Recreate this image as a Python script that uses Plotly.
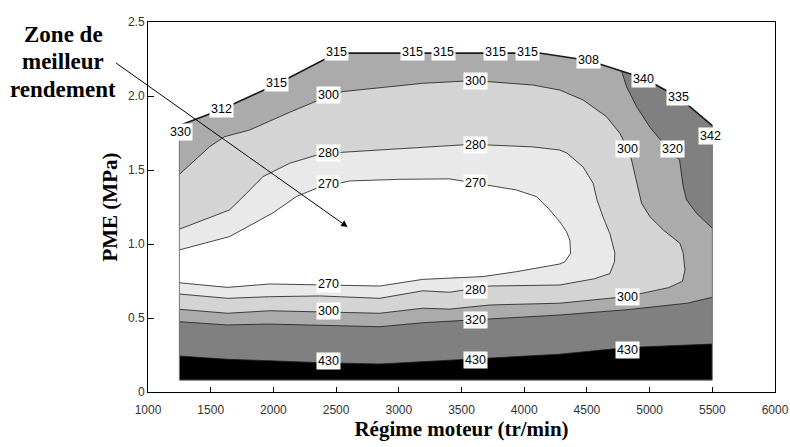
import plotly.graph_objects as go

# ---------------- data ----------------
PME_MIN = 0.08  # lowest load mapped (MPa)

# full-load curve (upper limit of the map)
fl_rpm = [1250, 1590, 2025, 2505, 4120, 4515, 4954, 5234, 5500]
fl_pme = [1.80, 1.91, 2.08, 2.29, 2.29, 2.24, 2.12, 1.99, 1.80]

# iso-consumption curves (g/kWh)
c430_rpm = [1250, 1630, 1970, 2370, 2850, 3190, 3720, 4280, 4820, 5500]
c430_pme = [0.243, 0.221, 0.211, 0.198, 0.189, 0.205, 0.228, 0.255, 0.300, 0.324]

c320_low_rpm = [1250, 1630, 1970, 2370, 2850, 3190, 3720, 4280, 4820, 5300, 5500]
c320_low_pme = [0.475, 0.453, 0.459, 0.453, 0.441, 0.468, 0.491, 0.520, 0.556, 0.600, 0.640]

c320_right_rpm = [5500, 5375, 5295, 5268, 5239, 5109, 5002, 4896, 4816, 4776]
c320_right_pme = [1.106, 1.207, 1.297, 1.387, 1.568, 1.680, 1.790, 1.928, 2.063, 2.170]

c300_rpm = [1250, 1491, 1611, 1810, 2130, 2440, 2555, 3193, 3512, 3713, 4071, 4284, 4470,
            4657, 4763, 4803, 4856, 4896, 4936, 5002, 5109, 5242, 5268, 5282, 5262, 5150,
            4923, 4820, 4284, 3725, 3406, 3191, 2848, 2369, 1970, 1634, 1250]
c300_pme = [1.470, 1.657, 1.725, 1.770, 1.890, 2.000, 2.030, 2.086, 2.100, 2.097, 2.074, 2.040, 1.973,
            1.860, 1.748, 1.680, 1.568, 1.410, 1.275, 1.185, 1.095, 1.005, 0.937, 0.824, 0.748, 0.705,
            0.667, 0.645, 0.600, 0.588, 0.560, 0.566, 0.532, 0.543, 0.549, 0.532, 0.559]

c280_rpm = [1250, 1650, 1784, 1916, 2129, 2342, 2555, 3512, 3713, 4070, 4284, 4340, 4470, 4550,
            4580, 4630, 4683, 4723, 4720, 4683, 4560, 4284, 3725, 3406, 3191, 2848, 2369, 1970,
            1634, 1250]
c280_pme = [1.100, 1.230, 1.340, 1.455, 1.545, 1.600, 1.620, 1.670, 1.669, 1.656, 1.635, 1.615, 1.520, 1.410,
            1.300, 1.180, 1.070, 0.940, 0.880, 0.800, 0.765, 0.723, 0.716, 0.674, 0.684, 0.633, 0.649, 0.644,
            0.633, 0.662]

c270_rpm = [1250, 1650, 1996, 2183, 2342, 2608, 3007, 3406, 3938, 4098, 4204, 4284, 4337, 4364,
            4370, 4324, 4284, 3938, 3672, 3406, 3191, 2848, 2369, 1970, 1634, 1250]
c270_pme = [0.960, 1.050, 1.210, 1.320, 1.376, 1.426, 1.437, 1.440, 1.365, 1.320, 1.230, 1.150, 1.083, 1.027,
            0.937, 0.880, 0.865, 0.813, 0.780, 0.768, 0.761, 0.716, 0.723, 0.730, 0.707, 0.738]

# labels on the iso-curves
lab_rpm = [2440, 2440, 2440, 2440, 2440, 2440, 3610, 3610, 3610, 3610, 3610, 3610, 4820, 4820, 4820, 5185]
lab_pme = [2.007, 1.615, 1.405, 0.730, 0.547, 0.210, 2.100, 1.670, 1.410, 0.690, 0.487, 0.216, 1.640, 0.640, 0.284, 1.640]
lab_txt = ["300", "280", "270", "270", "300", "430", "300", "280", "270", "280", "320", "430", "300", "300", "430", "320"]

# values written along the full-load curve
fl_lab_rpm = [1260, 1587, 2025, 2504, 3110, 3358, 3773, 4028, 4515, 4954, 5234, 5489]
fl_lab_pme = [1.76, 1.91, 2.09, 2.30, 2.30, 2.30, 2.30, 2.30, 2.24, 2.115, 1.99, 1.73]
fl_lab_txt = ["330", "312", "315", "315", "315", "315", "315", "315", "308", "340", "335", "342"]

x_ticks = [1000, 1500, 2000, 2500, 3000, 3500, 4000, 4500, 5000, 5500, 6000]
y_ticks = [0, 0.5, 1.0, 1.5, 2.0, 2.5]
y_ticktext = ["0", "0.5", "1.0", "1.5", "2.0", "2.5"]

callout_lines = ["Zone de", "meilleur", "rendement"]

# band colours (from highest to lowest consumption)
COL_GT430 = "#000000"
COL_320_430 = "#808080"
COL_300_320 = "#ababab"
COL_280_300 = "#d4d4d4"
COL_270_280 = "#e9e9e9"
COL_LT270 = "#ffffff"

# ---------------- figure ----------------
fig = go.Figure()


def add_fill(xs, ys, color):
    fig.add_trace(go.Scatter(x=xs, y=ys, mode="lines", fill="toself", fillcolor=color,
                             line=dict(width=0, color=color), hoverinfo="skip", showlegend=False))


def add_line(xs, ys, color="#1a1a1a", width=0.8):
    fig.add_trace(go.Scatter(x=xs, y=ys, mode="lines", line=dict(width=width, color=color),
                             hoverinfo="skip", showlegend=False))


# whole mapped domain
dom_x = fl_rpm + [fl_rpm[-1], fl_rpm[0], fl_rpm[0]]
dom_y = fl_pme + [PME_MIN, PME_MIN, fl_pme[0]]
add_fill(dom_x, dom_y, COL_GT430)

# region below 430
add_fill(c430_rpm + fl_rpm[::-1], c430_pme + fl_pme[::-1], COL_320_430)

# region below 320
cut = c320_right_rpm[-1]
fl_left_rpm = [r for r in fl_rpm if r < cut][::-1]
fl_left_pme = [p for r, p in zip(fl_rpm, fl_pme) if r < cut][::-1]
add_fill(c320_low_rpm + c320_right_rpm + fl_left_rpm,
         c320_low_pme + c320_right_pme + fl_left_pme, COL_300_320)

add_fill(c300_rpm, c300_pme, COL_280_300)
add_fill(c280_rpm, c280_pme, COL_270_280)
add_fill(c270_rpm, c270_pme, COL_LT270)

# iso-lines
for xs, ys in [(c430_rpm, c430_pme), (c320_low_rpm, c320_low_pme), (c320_right_rpm, c320_right_pme),
               (c300_rpm, c300_pme), (c280_rpm, c280_pme), (c270_rpm, c270_pme)]:
    add_line(xs, ys)

# domain outline and full-load curve
add_line([fl_rpm[0], fl_rpm[0], fl_rpm[-1], fl_rpm[-1]],
         [fl_pme[0], PME_MIN, PME_MIN, fl_pme[-1]], color="#7a7a7a", width=1)
add_line(fl_rpm, fl_pme, color="#1a1a1a", width=1.6)

annotations = []
label_font = dict(family="Arial, Liberation Sans, sans-serif", size=12.5, color="#000000")
for r, p, t in list(zip(lab_rpm, lab_pme, lab_txt)) + list(zip(fl_lab_rpm, fl_lab_pme, fl_lab_txt)):
    annotations.append(dict(x=r, y=p, xref="x", yref="y", text=t, showarrow=False,
                            bgcolor="#ffffff", borderpad=1, font=label_font))

serif_bold = dict(family="Liberation Serif, Times New Roman, serif", size=21, color="#000000", weight="bold")
callout_font = dict(family="Liberation Serif, Times New Roman, serif", size=23, color="#000000", weight="bold")

# "best efficiency zone" call-out
annotations.append(dict(x=2592, y=1.115, xref="x", yref="y", ax=733, ay=2.23, axref="x", ayref="y",
                        text="", showarrow=True, arrowhead=2, arrowsize=1.3, arrowwidth=1,
                        arrowcolor="#000000", standoff=0))
for i, line in enumerate(callout_lines):
    annotations.append(dict(x=-0.135, y=0.967 - i * 0.0745, xref="paper", yref="paper",
                            text=line, showarrow=False, xanchor="center", yanchor="middle",
                            font=callout_font))

tick_font = dict(family="Arial, Liberation Sans, sans-serif", size=12, color="#333333")

fig.update_layout(
    width=790, height=447,
    margin=dict(l=148, r=15, t=22, b=55),
    paper_bgcolor="#ffffff", plot_bgcolor="#ffffff",
    showlegend=False,
    hovermode=False,
    annotations=annotations,
    xaxis=dict(range=[1000, 6000], tickvals=x_ticks, ticks="inside", ticklen=5, tickcolor="#000000",
               showline=True, linecolor="#000000", linewidth=1, mirror=True, showgrid=False,
               zeroline=False, tickfont=tick_font, ticklabelstandoff=7, automargin=False,
               title=dict(text="Régime moteur (tr/min)", font=serif_bold, standoff=2)),
    yaxis=dict(range=[0, 2.5], tickvals=y_ticks, ticktext=y_ticktext, ticks="inside", ticklen=6,
               tickcolor="#000000", showline=True, linecolor="#000000", linewidth=1, mirror=True,
               showgrid=False, zeroline=False, tickfont=tick_font, automargin=False,
               title=dict(text="PME (MPa)", font=serif_bold, standoff=4)),
)

# remove the browser's default page margin so the figure fills the window exactly
fig.write_html("out.html", config={"displayModeBar": False},
               post_script="document.body.style.margin='0';document.body.style.overflow='hidden';")
